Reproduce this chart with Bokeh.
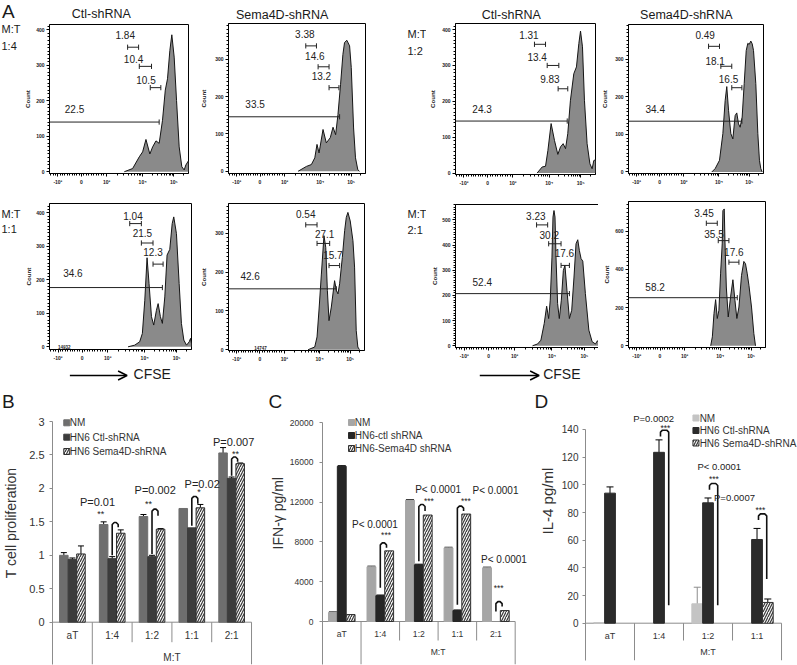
import numpy as np
from bokeh.plotting import figure
from bokeh.layouts import row, column
from bokeh.models import (Range1d, FixedTicker, SingleIntervalTicker, Label, Arrow, OpenHead,
                          Whisker, TeeHead, ColumnDataSource)
from bokeh.embed import file_html
from bokeh.resources import INLINE
from bokeh.core.properties import value

FONT = "Liberation Sans"
S = 1.0

# ======================= DATA =======================
# ---- Panel A: CFSE dilution histograms (display channel 0-100, count)
a_titles = ["Ctl-shRNA", "Sema4D-shRNA"]
a_ratios = ["1:4", "1:2", "1:1", "2:1"]
ratio_prefix = "M:T"
cfse_name = "CFSE"
count_name = "Count"
cfse_ticks = [6, 23, 41, 67, 89.5]
cfse_tick_labels = ["-10³", "0", "10³", "10⁴", "10⁵"]
event_notes = ["14932", "14747"]

# Ctl-shRNA 1:4
h1_cfse = [53.8, 59.8, 64.6, 67.0, 69.4, 72.2, 74.2, 76.6, 78.9, 81.3, 83.3, 84.9, 86.6, 88.0, 89.7, 91.4, 93.3, 95.2, 96.9, 98.1, 100]
h1_count = [0, 9, 42, 56, 91, 50, 70, 87, 80, 145, 230, 262, 342, 386, 323, 201, 70, 14, 5, 19, 31]
h1_gates = [(0, 78.9, 140, "22.5"), (56.2, 64.1, 351, "1.84"), (64.6, 73.4, 297, "10.4"), (72.5, 80.1, 237, "10.5")]
h1_gate_text_at = [(18, 178), (54.5, 386), (60.5, 318), (69.4, 259)]

# Sema4D-shRNA 1:4
h2_cfse = [50.8, 56.9, 60.5, 63.0, 64.6, 66.1, 69.0, 71.4, 74.3, 76.3, 78.2, 79.9, 81.8, 83.5, 84.7, 86.4, 88.4, 89.6, 91.3, 92.7, 94.4, 95.6]
h2_count = [0, 13, 18, 36, 72, 49, 112, 76, 90, 118, 98, 152, 233, 313, 345, 351, 336, 278, 116, 36, 4, 0]
h2_gates = [(0, 81.1, 146, "33.5"), (56.4, 64.2, 336, "3.38"), (65.4, 73.4, 280, "14.6"), (73.4, 80.6, 224, "13.2")]
h2_gate_text_at = [(19.4, 179), (55.7, 367), (63.0, 309), (67.8, 255)]

# Ctl-shRNA 1:2
h3_cfse = [58.3, 61.9, 64.3, 66.0, 68.3, 70.7, 73.1, 75.0, 76.9, 78.6, 80.2, 82.1, 84.5, 86.4, 88.1, 89.3, 90.7, 92.1, 94.0, 96.0, 97.6, 98.8, 100]
h3_count = [0, 17, 19, 63, 138, 91, 52, 73, 82, 68, 110, 203, 277, 296, 361, 396, 352, 203, 82, 26, 12, 35, 37]
h3_gates = [(0, 79.8, 145, "24.3"), (56.4, 64.3, 359, "1.31"), (65.5, 73.8, 300, "13.4"), (73.3, 80.2, 235, "9.83")]
h3_gate_text_at = [(19.0, 180), (52.4, 386), (58.3, 324), (67.4, 261)]

# Sema4D-shRNA 1:2
h4_cfse = [61.7, 64.2, 67.4, 69.9, 71.6, 72.8, 74.1, 75.8, 77.3, 79.0, 80.2, 81.5, 82.7, 84.2, 85.7, 87.2, 88.4, 89.4, 90.6, 91.6, 92.6, 94.3, 95.8, 97.0, 98.0, 99.0]
h4_count = [0, 9, 31, 102, 190, 227, 164, 102, 88, 150, 157, 128, 119, 146, 235, 323, 342, 339, 348, 341, 323, 235, 102, 31, 9, 0]
h4_gates = [(0, 84.0, 135, "34.4"), (59.3, 67.4, 334, "0.49"), (68.4, 76.5, 281, "18.1"), (76.5, 84.0, 224, "16.5")]
h4_gate_text_at = [(19.8, 168), (56.8, 363), (64.2, 296), (74.1, 246)]

# Ctl-shRNA 1:1
h5_cfse = [55.3, 60.0, 63.5, 65.4, 67.1, 68.7, 70.1, 71.8, 73.4, 75.3, 76.5, 78.1, 79.5, 81.2, 82.8, 84.7, 86.4, 87.5, 89.4, 91.3, 92.9, 94.6, 96.5, 98.4, 99.3, 100]
h5_count = [0, 5, 15, 40, 139, 266, 189, 90, 65, 109, 129, 90, 70, 149, 274, 291, 368, 388, 338, 189, 70, 20, 5, 15, 25, 10]
h5_gates = [(0, 79.5, 177, "34.6"), (56.5, 64.7, 368, "1.04"), (64.7, 72.9, 310, "21.5"), (72.9, 80.0, 247, "12.3")]
h5_gate_text_at = [(16.5, 221), (58.8, 391), (65.4, 340), (72.9, 284)]

# Sema4D-shRNA 1:1
h6_cfse = [58.5, 63.4, 65.1, 66.6, 68.3, 70.2, 71.5, 72.7, 73.9, 75.6, 78.0, 79.3, 80.5, 81.7, 83.7, 85.4, 86.6, 87.8, 89.5, 91.5, 92.7, 93.9, 95.1, 96.3]
h6_count = [0, 7, 33, 105, 195, 294, 264, 153, 75, 110, 178, 153, 144, 170, 238, 307, 341, 354, 332, 281, 213, 50, 7, 0]
h6_gates = [(0, 79.3, 157, "42.6"), (56.8, 65.1, 322, "0.54"), (65.1, 74.4, 274, "27.1"), (73.9, 81.7, 217, "15.7")]
h6_gate_text_at = [(15.9, 191), (56.8, 350), (70.7, 298), (76.8, 243)]

# Ctl-shRNA 2:1
h7_cfse = [53.5, 57.0, 59.3, 61.6, 63.3, 64.7, 65.8, 67.0, 67.7, 68.4, 69.1, 69.8, 70.9, 72.1, 73.5, 74.9, 76.0, 77.4, 79.1, 80.7, 82.3, 83.7, 84.9, 86.0, 87.2, 88.4, 90.2, 92.6, 94.9, 97.2, 98.6, 100]
h7_count = [0, 7, 22, 88, 157, 108, 181, 352, 511, 537, 511, 352, 168, 108, 181, 299, 319, 220, 108, 141, 273, 405, 421, 379, 346, 336, 207, 62, 16, 7, 20, 7]
h7_gates = [(0, 79.1, 207, "52.4"), (56.3, 64.0, 480, "3.23"), (64.7, 73.3, 405, "30.2"), (73.3, 79.1, 319, "17.6")]
h7_gate_text_at = [(18.6, 253), (55.8, 515), (65.1, 438), (75.6, 369)]

# Sema4D-shRNA 2:1
h8_cfse = [60.0, 61.2, 62.4, 63.6, 64.8, 66.0, 67.2, 68.4, 68.9, 69.9, 70.4, 71.4, 72.8, 74.5, 76.2, 77.7, 79.1, 80.6, 82.5, 84.2, 85.4, 86.7, 87.9, 89.8, 91.5, 92.7]
h8_count = [0, 47, 169, 242, 143, 186, 377, 534, 708, 717, 551, 308, 151, 256, 346, 238, 143, 203, 369, 442, 430, 377, 317, 203, 64, 0]
h8_gates = [(0, 79.4, 252, "58.2"), (56.8, 64.8, 642, "3.45"), (65.5, 73.3, 551, "35.5"), (73.3, 80.6, 438, "17.6")]
h8_gate_text_at = [(19.4, 306), (55.1, 694), (62.4, 586), (76.9, 490)]

# ---- Panels B, C, D
group_label = "M:T"
cats_bc = ["aT", "1:4", "1:2", "1:1", "2:1"]
cats_d = ["aT", "1:4", "1:2", "1:1"]

# B: T cell proliferation
b_names = ["NM", "HN6 Ctl-shRNA", "HN6 Sema4D-shRNA"]
b_nm = [1.00, 1.46, 1.58, 1.70, 2.53]
b_nm_err = [0.04, 0.04, 0.03, 0.0, 0.08]
b_ctl = [0.94, 0.95, 0.98, 1.41, 2.15]
b_ctl_err = [0.02, 0.03, 0.02, 0.0, 0.02]
b_sema = [1.02, 1.33, 1.39, 1.71, 2.37]
b_sema_err = [0.12, 0.05, 0.01, 0.05, 0.01]
b_yticks = [0, 0.5, 1, 1.5, 2, 2.5, 3]
b_ylabel = "T cell proliferation"
b_sig_cats = ["1:4", "1:2", "1:1", "2:1"]
b_sig_p = ["P=0.01", "P=0.002", "P=0.02", "P=0.007"]
b_sig_stars = ["**", "**", "*", "**"]
b_brk_top = [1.49, 1.69, 1.88, 2.47]
b_brk_left = [1.00, 1.02, 1.44, 2.19]
b_brk_right = [1.42, 1.59, 1.77, 2.40]
b_p_at = [(-0.37, 1.79), (0.08, 1.97), (0.26, 2.06), (0.05, 2.70)]
b_star_at = [(-0.29, 1.62), (-0.09, 1.77), (0.18, 1.95), (0.10, 2.52)]

# C: IFN-gamma
c_names = ["NM", "HN6-ctl shRNA", "HN6-Sema4D shRNA"]
c_nm = [900, 5500, 12200, 7400, 5400]
c_nm_err = [60, 60, 60, 60, 60]
c_ctl = [15600, 2600, 5700, 1100, 0]
c_ctl_err = [60, 60, 60, 60, 0]
c_sema = [700, 7100, 10700, 10800, 1100]
c_sema_err = [0, 0, 0, 0, 0]
c_yticks = [0, 4000, 8000, 12000, 16000, 20000]
c_ylabel = "IFN-γ pg/ml"
c_sig_cats = ["1:4", "1:2", "1:1", "2:1"]
c_sig_p = ["P< 0.0001", "P< 0.0001", "P< 0.0001", "P< 0.0001"]
c_sig_stars = ["***", "***", "***", "***"]
c_brk_top = [7900, 11760, 11600, 2000]
c_brk_left = [3400, 6050, 1680, 1000]
c_brk_right = [7400, 11100, 11100, 1500]
c_p_at = [(-0.14, 9750), (0.5, 13270), (0.99, 13170), (0.21, 6230)]
c_star_at = [(0.15, 8700), (0.26, 12100), (0.22, 12100), (0.07, 3400)]

# D: IL-4
d_names = ["NM", "HN6 Ctl-shRNA", "HN6 Sema4D-shRNA"]
d_nm = [0.5, 0, 14, 0]
d_nm_err = [0, 0, 12, 0]
d_ctl = [94, 123.5, 87, 60.5]
d_ctl_err = [4.5, 9, 3.5, 8]
d_sema = [0, 0, 0, 15]
d_sema_err = [0, 0, 0, 2.5]
d_yticks = [0, 20, 40, 60, 80, 100, 120, 140]
d_ylabel = "IL-4 pg/ml"
d_sig_cats = ["1:4", "1:2", "1:1"]
d_sig_p = ["P=0.0002", "P< 0.0001", "P=0.0007"]
d_sig_stars = ["***", "***", "***"]
d_brk_top = [139.5, 101.0, 79.0]
d_brk_left = [135.0, 96.5, 74.5]
d_brk_right = [13, 13, 32]
d_p_at = [(-0.11, 147.9), (0.23, 113.3), (-0.46, 90.9)]
d_star_at = [(0.13, 141.0), (0.12, 104.5), (0.07, 82.0)]

# ======================= HELPERS =======================
def R(v):
    return int(round(v * S))

def fs(px):
    return f"{px * S:.2f}px"

TXT = "#333333"
AXC = "#8c8c8c"

def make_fig(strip, frame, xr, yr, **kw):
    sx0, sy0, sx1, sy1 = strip
    fl, ft, fr, fb = frame
    p = figure(frame_width=R(fr) - R(fl), frame_height=R(fb) - R(ft),
               min_border_left=R(fl) - R(sx0), min_border_right=R(sx1) - R(fr),
               min_border_top=R(ft) - R(sy0), min_border_bottom=R(sy1) - R(fb),
               x_range=xr, y_range=yr, output_backend="svg", toolbar_location=None, **kw)
    p.grid.visible = False
    p.background_fill_color = "white"
    p.border_fill_color = "white"
    return p

def text_fig(strip):
    x0, y0, x1, y1 = strip
    p = figure(width=R(x1) - R(x0), height=R(y1) - R(y0), x_range=Range1d(x0, x1),
               y_range=Range1d(y1, y0), x_axis_type=None, y_axis_type=None,
               output_backend="svg", toolbar_location=None, min_border=0)
    p.outline_line_color = None
    p.background_fill_color = "white"
    p.border_fill_color = "white"
    return p

def put_text(p, X, Y, text, size, align="left", color="#1a1a1a", style="normal"):
    p.text(x=[X], y=[Y], text=[text], text_font=value(FONT), text_font_size=fs(size),
           text_align=align, text_baseline="middle", text_color=color, text_font_style=style)

def cfse_pos(v):
    if v <= 0:
        return 23 + v / 1000 * (23 - 6)
    if v <= 1000:
        return 23 + v / 1000 * (41 - 23)
    return float(np.interp(np.log10(v), [3, 4, 5, 6], [41, 67, 89.5, 112]))

CFSE_MINOR = [cfse_pos(v) for v in range(-1300, 1000, 100) if v % 1000 != 0]
CFSE_MINOR += [cfse_pos(k * 10 ** n) for n in (3, 4, 5) for k in range(2, 10)]
CFSE_MINOR = [m for m in CFSE_MINOR if 0 < m < 100]

def hist(strip, frame, yr, ystep, cx, cy, gates, gate_text_at, ax_std):
    p = make_fig(strip, frame, Range1d(0, 100), Range1d(*yr))
    p.outline_line_color = "black"
    p.outline_line_alpha = 1
    p.outline_line_width = 1
    p.varea(x=cx, y1=[0] * len(cx), y2=cy, fill_color="#8a8a8a")
    p.line(x=cx, y=cy, line_color="#151515", line_width=1)
    ppc = (frame[3] - frame[1]) * S / (yr[1] - yr[0])
    th = 2.6 / ppc
    x0, y0, x1, y1 = [], [], [], []
    for (a, b, y, _) in gates:
        x0.append(a); y0.append(y); x1.append(b); y1.append(y)
        ends = [b] if a <= 0 else [a, b]
        for e in ends:
            x0.append(e); y0.append(y - th); x1.append(e); y1.append(y + th)
    p.segment(x0=x0, y0=y0, x1=x1, y1=y1, line_color="#222222", line_width=1)
    p.text(x=[q[0] for q in gate_text_at], y=[q[1] for q in gate_text_at], text=[g[3] for g in gates],
           text_font=value(FONT), text_font_size=fs(10), text_align="center", text_baseline="middle",
           text_color="#222222")
    xa = p.xaxis[0]
    ya = p.yaxis[0]
    xa.ticker = FixedTicker(ticks=cfse_ticks, minor_ticks=CFSE_MINOR)
    xa.major_label_overrides = dict(zip(cfse_ticks, cfse_tick_labels))
    ya.ticker = SingleIntervalTicker(interval=ystep, num_minor_ticks=10)
    for ax in (xa, ya):
        ax.axis_line_color = "black"
        ax.major_tick_line_color = "black"
        ax.minor_tick_line_color = "black"
        ax.major_tick_in = 0
        ax.major_tick_out = 3
        ax.minor_tick_in = 0
        ax.minor_tick_out = 2
        ax.major_label_text_font = FONT
        ax.major_label_text_font_size = fs(5)
        ax.major_label_text_font_style = "bold"
        ax.major_label_text_color = "#222222"
        ax.major_label_standoff = 2
    ya.axis_label = count_name
    ya.axis_label_text_font = FONT
    ya.axis_label_text_font_size = fs(6.2)
    ya.axis_label_text_font_style = "bold"
    ya.axis_label_text_color = "#222222"
    ya.axis_label_standoff = ax_std
    return p, ppc

def bar_panel(strip, frame, cats, cat_right, ppu, zero_y, ytop, yticks, ylabel, label_center,
              tick_size, ylabel_size, tick_standoff, label_standoff, cat_size, cat_dy, grp_dy, short_dy):
    fl, ft, fr, fb = frame
    n = len(cats)
    cat_ref = (cat_right - fl) / n
    xr = Range1d(0, (fr - fl) / cat_ref)
    yr = Range1d(-(fb - zero_y) / ppu, (zero_y - ft) / ppu)
    p = make_fig(strip, frame, xr, yr, x_axis_type=None)
    p.outline_line_color = None
    ya = p.yaxis[0]
    ya.bounds = (yr.start, ytop)
    ya.ticker = FixedTicker(ticks=yticks)
    ya.major_label_overrides = {t: f"{t:g}" for t in yticks}
    ya.axis_line_color = AXC
    ya.major_tick_line_color = AXC
    ya.minor_tick_line_color = None
    ya.major_tick_in = 0
    ya.major_tick_out = 3
    ya.major_label_standoff = tick_standoff
    ya.major_label_text_font = FONT
    ya.major_label_text_font_size = fs(tick_size)
    ya.major_label_text_color = TXT
    # shift the centred axis title so that it sits where the reference puts it
    pad = 2 * (((ft + fb) / 2) - label_center)
    nb = max(0, int(round(pad / (0.278 * ylabel_size))))
    ya.axis_label = "\u00a0" * nb + ylabel
    ya.axis_label_text_font = FONT
    ya.axis_label_text_font_size = fs(ylabel_size)
    ya.axis_label_text_font_style = "normal"
    ya.axis_label_text_color = TXT
    ya.axis_label_standoff = label_standoff
    # category table under the value axis
    p.segment(x0=[0], y0=[0], x1=[n], y1=[0], line_color=AXC, line_width=1)
    bx = list(range(1, n + 1))
    bottoms = [yr.start if (b == 1 or b == n) else -short_dy / ppu for b in bx]
    p.segment(x0=bx, y0=[0] * n, x1=bx, y1=bottoms, line_color=AXC, line_width=1)
    p.text(x=[i + 0.5 for i in range(n)], y=[-cat_dy / ppu] * n, text=cats,
           text_font=value(FONT), text_font_size=fs(cat_size), text_align="center",
           text_baseline="middle", text_color=TXT)
    p.text(x=[(1 + n) / 2], y=[-grp_dy / ppu], text=[group_label],
           text_font=value(FONT), text_font_size=fs(cat_size), text_align="center",
           text_baseline="middle", text_color=TXT)
    return p, cat_ref

HATCH = dict(fill_color="#f4f4f4", line_color="#303030", hatch_pattern="/", hatch_color="#303030",
             hatch_scale=5, hatch_weight=1.1)

def solid(c):
    return dict(fill_color=c, line_color=c)

def bars(p, vals, errs, off, w, style, err_color="black", head=6):
    n = len(vals)
    xs = [i + 0.5 + off for i in range(n)]
    keep = [k for k in range(n) if vals[k] > 0]
    src = ColumnDataSource(dict(x=[xs[k] for k in keep], top=[vals[k] for k in keep]))
    p.vbar(x="x", top="top", bottom=0, width=w, source=src, line_width=1, **style)
    ek = [k for k in range(n) if errs[k] > 0]
    if ek:
        es = ColumnDataSource(dict(base=[xs[k] for k in ek], lower=[vals[k] - errs[k] for k in ek],
                                   upper=[vals[k] + errs[k] for k in ek]))
        p.add_layout(Whisker(source=es, base="base", lower="lower", upper="upper",
                             line_color=err_color, line_width=1,
                             upper_head=TeeHead(size=head, line_color=err_color, line_width=1),
                             lower_head=TeeHead(size=head, line_color=err_color, line_width=1)))

def brackets(p, cats, sig_cats, tops, lefts, rights, xl_off, xr_off, cat_ref, ppu, lw=1.6):
    rx = 2.0 / cat_ref
    ry = 2.0 / ppu
    xs, ys = [], []
    for c, t, lb, rb in zip(sig_cats, tops, lefts, rights):
        i = cats.index(c)
        xl = i + 0.5 + xl_off
        xr = i + 0.5 + xr_off
        xs.append([xl, xl, xl + rx, xr - rx, xr, xr])
        ys.append([lb, t - ry, t, t, t - ry, rb])
    p.multi_line(xs, ys, line_color="#111111", line_width=lw)

def sig_texts(p, cats, sig_cats, ptexts, p_at, stars, star_at, psize, ssize):
    for c, t, (dx, y) in zip(sig_cats, ptexts, p_at):
        i = cats.index(c)
        p.add_layout(Label(x=i + 0.5 + dx, y=y, text=t, text_font=FONT, text_font_size=fs(psize),
                           text_align="center", text_baseline="middle", text_color="#222222"))
    for c, t, (dx, y) in zip(sig_cats, stars, star_at):
        i = cats.index(c)
        p.add_layout(Label(x=i + 0.5 + dx, y=y, text=t, text_font=FONT, text_font_size=fs(ssize),
                           text_align="center", text_baseline="middle", text_color="#222222"))

def key(p, names, styles, gx, tx, ys, fl, cat_ref, zero_y, ppu):
    for nm, st, Y in zip(names, styles, ys):
        y = (zero_y - Y) / ppu
        p.scatter(x=[(gx - fl) / cat_ref], y=[y], marker="square", size=R(6), line_width=1, **st)
        p.text(x=[(tx - fl) / cat_ref], y=[y], text=[nm], text_font=value(FONT), text_font_size=fs(10),
               text_align="left", text_baseline="middle", text_color=TXT)

# ======================= PANEL A =======================
head_top = text_fig((0, 0, 797, 22))
put_text(head_top, 1.5, 11, "A", 19)
put_text(head_top, 100.8, 13.5, a_titles[0], 12.5, align="center")
put_text(head_top, 281.7, 14, a_titles[1], 12.5, align="center")
put_text(head_top, 510.8, 14.5, a_titles[0], 12.5, align="center")
put_text(head_top, 685.8, 14.5, a_titles[1], 12.5, align="center")

t_left = text_fig((0, 22, 21, 390))
put_text(t_left, 1, 28.5, ratio_prefix, 11)
put_text(t_left, 1, 45, a_ratios[0], 11)
put_text(t_left, 1, 213.3, ratio_prefix, 11)
put_text(t_left, 1, 228, a_ratios[2], 11)

t_mid = text_fig((400, 22, 420, 390))
put_text(t_mid, 401, 33, ratio_prefix, 11)
put_text(t_mid, 401, 50, a_ratios[1], 11)
put_text(t_mid, 401, 213.3, ratio_prefix, 11)
put_text(t_mid, 401, 229.5, a_ratios[3], 11)

f1 = (44, 24, 183, 173.3)
f2 = (221.7, 22.7, 359.3, 173.3)
f3 = (445, 23.3, 585, 174)
f4 = (615, 24, 750, 173.3)
f5 = (43.3, 203.3, 185, 349.3)
f6 = (221.7, 202.7, 358.3, 350)
f7 = (443.3, 204, 586.7, 347.3)
f8 = (612.7, 200.7, 750, 347.3)

p1, _ = hist((21, 22, 192, 190), f1, (-5, 415), 100, h1_cfse, h1_count, h1_gates, h1_gate_text_at, 2)
p2, _ = hist((192, 22, 400, 190), f2, (-6, 396), 100, h2_cfse, h2_count, h2_gates, h2_gate_text_at, 5)
p3, _ = hist((420, 22, 588, 190), f3, (-4, 417), 100, h3_cfse, h3_count, h3_gates, h3_gate_text_at, 3)
p4, _ = hist((588, 22, 797, 190), f4, (-4, 392), 100, h4_cfse, h4_count, h4_gates, h4_gate_text_at, 4)
p5, c5 = hist((21, 190, 192, 365), f5, (-8, 428), 100, h5_cfse, h5_count, h5_gates, h5_gate_text_at, 1)
p6, c6 = hist((192, 190, 400, 390), f6, (-2, 377), 100, h6_cfse, h6_count, h6_gates, h6_gate_text_at, 5)
p7, _ = hist((420, 190, 588, 365), f7, (-7, 561), 100, h7_cfse, h7_count, h7_gates, h7_gate_text_at, 1)
p8, _ = hist((588, 190, 797, 390), f8, (-9, 756), 200, h8_cfse, h8_count, h8_gates, h8_gate_text_at, 2)

for p, ppc, yr0, fx, note in ((p5, c5, -8, 10.4, event_notes[0]), (p6, c6, -2, 23.6, event_notes[1])):
    p.text(x=[fx], y=[yr0 + 0.5 / ppc], text=[note], text_font=value(FONT), text_font_size=fs(4.5),
           text_font_style="bold", text_align="center", text_baseline="bottom", text_color="#222222")

cf1 = text_fig((21, 365, 192, 390))
cf2 = text_fig((420, 365, 588, 390))
for p, xa0, xa1, xt in ((cf1, 47, 120, 128.3), (cf2, 450, 523.3, 528.3)):
    p.add_layout(Arrow(x_start=xa0, y_start=375, x_end=xa1, y_end=375, line_color="black", line_width=1.5,
                       end=OpenHead(size=9, line_color="black", line_width=1.5)))
    put_text(p, xt, 373.5, cfse_name, 14)

# ======================= PANELS B, C, D =======================
head_bot = text_fig((0, 390, 797, 412))
put_text(head_bot, 1.5, 401, "B", 19)
put_text(head_bot, 268, 401, "C", 19)
put_text(head_bot, 534, 401, "D", 19)

# B
fB = (50.7, 412, 265, 664)
pB, catB = bar_panel((0, 412, 265, 665), fB, cats_bc, 250, 66.9, 621.7, 3, b_yticks, b_ylabel, 523,
                     11, 14, 5, 7, 10, 13.3, 35, 20)
wB = 0.215
stB = [solid("#6e6e6e"), solid("#3c3c3c"), HATCH]
bars(pB, b_nm, b_nm_err, -wB, wB, stB[0], head=6)
bars(pB, b_ctl, b_ctl_err, 0, wB, stB[1], head=6)
bars(pB, b_sema, b_sema_err, wB, wB, stB[2], head=6)
brackets(pB, cats_bc, b_sig_cats, b_brk_top, b_brk_left, b_brk_right, 0, 0.7 * wB, catB, 66.9)
sig_texts(pB, cats_bc, b_sig_cats, b_sig_p, b_p_at, b_sig_stars, b_star_at, 11, 9)
key(pB, b_names, stB, 65, 68, [422.3, 436.7, 451], fB[0], catB, 621.7, 66.9)

# C
fC = (319.3, 412, 530, 664)
pC, catC = bar_panel((265, 412, 530, 665), fC, cats_bc, 511.7, 0.00995, 621, 20000, c_yticks, c_ylabel, 513,
                     8.5, 14, 6, 1, 8.6, 12, 30, 19)
wC = 0.23
stC = [solid("#a6a6a6"), solid("#262626"), HATCH]
bars(pC, c_nm, c_nm_err, -wC, wC, stC[0], head=8)
bars(pC, c_ctl, c_ctl_err, 0, wC, stC[1], head=8)
bars(pC, c_sema, c_sema_err, wC, wC, stC[2], head=8)
brackets(pC, cats_bc, c_sig_cats, c_brk_top, c_brk_left, c_brk_right, 0, 0.7 * wC, catC, 0.00995)
sig_texts(pC, cats_bc, c_sig_cats, c_sig_p, c_p_at, c_sig_stars, c_star_at, 10, 8.5)
key(pC, c_names, stC, 348.3, 351.5, [422, 435, 448], fC[0], catC, 621, 0.00995)

# D
fD = (581.7, 412, 797, 660)
pD, catD = bar_panel((530, 412, 797, 665), fD, cats_d, 778, 1.3836, 622.7, 140, d_yticks, d_ylabel, 500,
                     10, 15, 4, 3, 9, 12.3, 29, 17.3)
wD = 0.22
stD = [solid("#c4c4c4"), solid("#2b2b2b"), HATCH]
bars(pD, d_nm, d_nm_err, -wD, wD, stD[0], err_color="#8c8c8c", head=7)
bars(pD, d_ctl, d_ctl_err, 0, wD, stD[1], head=7)
bars(pD, d_sema, d_sema_err, wD, wD, stD[2], head=7)
brackets(pD, cats_d, d_sig_cats, d_brk_top, d_brk_left, d_brk_right, 0.03, 0.9 * wD, catD, 1.3836)
sig_texts(pD, cats_d, d_sig_cats, d_sig_p, d_p_at, d_sig_stars, d_star_at, 9.5, 8.5)
key(pD, d_names, stD, 692.3, 696, [417.5, 430, 442.5], fD[0], catD, 622.7, 1.3836)

# ======================= LAYOUT =======================
top = column(head_top,
             row(t_left, column(p1, p5, cf1), column(p2, p6), t_mid, column(p3, p7, cf2), column(p4, p8)))
bottom = column(head_bot, row(pB, pC, pD))
layout = column(top, bottom)

open("out.html", "w").write(file_html(layout, INLINE))
